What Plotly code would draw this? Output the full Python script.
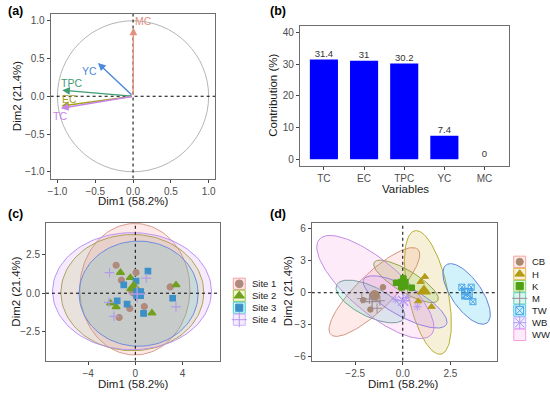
import numpy as np
import plotly.graph_objects as go

W, H = 550, 393
FONT = "Liberation Sans, Arial, Helvetica, sans-serif"

# ---------------- (a) variables correlation circle ----------------
var_names = ["MC", "EC", "TPC", "YC", "TC"]
var_dim1 = [0.005, -0.950, -0.937, -0.464, -0.956]
var_dim2 = [0.910, -0.130, 0.080, 0.440, -0.160]

# ---------------- (b) contributions ----------------
contrib_vars = ["TC", "EC", "TPC", "YC", "MC"]
contrib_vals = [31.4, 31.0, 30.2, 7.4, 0.0]
contrib_text = ["31.4", "31", "30.2", "7.4", "0"]

# ---------------- (c) individuals by site ----------------
site_names = ["Site 1", "Site 2", "Site 3", "Site 4"]
site1_x = [-1.63, 0.06, 2.95, 0.76, -1.37, -0.47, -1.18]
site1_y = [1.83, 1.35, 0.41, -0.87, -1.59, -1.00, 0.85]
site2_x = [-1.26, -0.42, 3.45, -2.10, -1.63, 1.41]
site2_y = [1.35, 1.02, 0.54, -0.65, -0.89, -1.30]
site3_x = [1.07, -0.98, 0.06, 3.17, -1.54, -0.70, 0.70]
site3_y = [1.45, 0.54, 0.80, -0.33, -0.50, -0.72, -1.32]
site4_x = [-2.19, 0.93, 3.45, -1.82, -2.24]
site4_y = [1.35, 0.98, -0.89, -1.52, -0.60]
site_mean_x = [-0.10, -0.13, 0.28, 0.15]
site_mean_y = [0.15, 0.37, -0.02, -0.05]
site_ell_cx = [-0.04, -0.25, 0.28, -0.28]
site_ell_cy = [0.26, 0.04, -0.03, 0.13]
site_ell_rx = [4.67, 6.06, 5.05, 6.74]
site_ell_ry = [4.30, 3.80, 3.44, 3.83]

# ---------------- (d) individuals by type ----------------
type_names = ["CB", "H", "K", "M", "TW", "WB", "WW"]
cb_x = [-1.04, -2.08, -1.70]
cb_y = [0.52, -0.69, -1.57]
h_x = [0.94, 1.16, 0.81, 1.51]
h_y = [1.03, 1.50, -0.79, -1.31]
k_x = [-0.35, 0.47, 0.03, -0.05]
k_y = [0.94, 0.47, 1.34, 0.50]
m_x = [-2.15, -1.35, -1.20, -1.75]
m_y = [-0.55, -1.45, -0.75, -0.60]
tw_x = [3.10, 3.59, 3.24, 3.38, 3.68]
tw_y = [0.52, 0.52, 0.15, -0.32, -0.84]
wb_x = [0.76, -0.40, 0.20]
wb_y = [-1.31, -0.63, -0.45]
ww_x = []
ww_y = []
type_mean_x = [-1.48, 1.11, 0.03, -1.61, 3.37, 0.02, None]
type_mean_y = [-0.25, 0.15, 0.80, -0.84, -0.09, -0.75, None]
type_ell_cx = [-1.49, 1.32, 0.17, -1.70, 3.35, 0.12, -1.44]
type_ell_cy = [0.07, 0.03, 1.06, -0.82, -0.11, -0.86, 0.54]
type_ell_ux = [2.29, 0.69, 1.67, 1.77, 1.07, 2.17, 2.95]
type_ell_uy = [3.98, -5.78, -1.78, -1.55, -2.72, -2.11, -4.45]
type_ell_vx = [0.65, -1.02, -0.29, -0.34, -0.64, -0.37, -0.87]
type_ell_vy = [-1.21, -0.39, -0.89, -1.27, -0.81, -1.24, -1.87]

# ---------------- styles ----------------
var_colors = ["#E2907F", "#A3A21C", "#3F9B72", "#4A89DC", "#C884E6"]
var_label_shift = {"MC": (10, 7), "EC": (8, 7), "TPC": (9, 7), "YC": (-8, -8), "TC": (-1, -8)}

site_pt_colors = ["#B08A7C", "#72A01E", "#3C90C8", "#B49BE8"]
site_fill = ["rgba(248,118,109,0.16)", "rgba(163,190,0,0.16)", "rgba(0,191,196,0.16)", "rgba(199,124,255,0.16)"]
site_line = ["#D79C8C", "#A9A93A", "#5C8ED6", "#B995EE"]
site_key_line = ["#F4A0A0", "#9BC43A", "#3FCFD3", "#D0B0FF"]
site_symbols = ["circle", "triangle-up", "square", "cross-thin-open"]
site_sizes = [6, 7, 5.5, 7]

type_pt_colors = ["#A8896F", "#B39B14", "#4FA012", "#9A8C94", "#4AA5E8", "#B59CF0", "#E58AD8"]
type_fill = ["rgba(248,118,109,0.15)", "rgba(196,154,0,0.15)", "rgba(83,180,0,0.15)",
             "rgba(0,192,148,0.15)", "rgba(0,182,235,0.18)", "rgba(165,138,255,0.15)",
             "rgba(251,97,215,0.13)"]
type_line = ["#D49582", "#B7AE2E", "#9AA04A", "#6AA597", "#6184D8", "#8C85DE", "#C48BE3"]
type_key_line = ["#F4A3A0", "#E6B84D", "#8FD46B", "#5FD6B8", "#55C8F0", "#C2B0FF", "#F89BE4"]
type_symbols = ["circle", "triangle-up", "square", "cross-thin-open", "square-x-open", "asterisk-open", None]
type_sizes = [5.5, 6.5, 5.5, 7, 6, 7, 0]

TICKFONT = dict(family=FONT, size=10, color="#4D4D4D")
TITLEFONT = dict(family=FONT, size=11.5, color="#1A1A1A")


def ellipse(cx, cy, ux, uy, vx, vy, n=120):
    t = np.linspace(0, 2 * np.pi, n)
    return cx + ux * np.cos(t) + vx * np.sin(t), cy + uy * np.cos(t) + vy * np.sin(t)


fig = go.Figure()


def dom_x(a, b):
    return [a / W, b / W]


def dom_y(top, bottom):
    return [1 - bottom / H, 1 - top / H]


axis_common = dict(showgrid=False, zeroline=False, showline=True, mirror=True,
                   linecolor="#6E6E6E", linewidth=1, ticks="outside", ticklen=3,
                   tickcolor="#444444", tickfont=TICKFONT)

rng_a = [-1.09, 1.09]
rng_c_x, rng_c_y = [-7.58, 7.16], [-4.42, 4.61]
rng_d_x, rng_d_y = [-4.78, 4.93], [-6.375, 6.56]

fig.update_layout(
    xaxis=dict(domain=dom_x(48, 214), range=rng_a, anchor="y",
               tickvals=[-1, -0.5, 0, 0.5, 1], tickformat=".1f", **axis_common),
    yaxis=dict(domain=dom_y(14, 179), range=rng_a, anchor="x",
               tickvals=[-1, -0.5, 0, 0.5, 1], tickformat=".1f", **axis_common),
    xaxis2=dict(domain=dom_x(299, 509.3), range=[-0.6, 4.6], anchor="y2", type="category",
                **axis_common),
    yaxis2=dict(domain=dom_y(26, 166), range=[-2, 42], anchor="x2",
                tickvals=[0, 10, 20, 30, 40], **axis_common),
    xaxis3=dict(domain=dom_x(43.3, 218.3), range=rng_c_x, anchor="y3",
                tickvals=[-4, 0, 4], **axis_common),
    yaxis3=dict(domain=dom_y(223.3, 361.7), range=rng_c_y, anchor="x3",
                tickvals=[-2.5, 0, 2.5], tickformat=".1f", **axis_common),
    xaxis4=dict(domain=dom_x(311, 497.3), range=rng_d_x, anchor="y4",
                tickvals=[-2.5, 0, 2.5], tickformat=".1f", **axis_common),
    yaxis4=dict(domain=dom_y(223.3, 361.7), range=rng_d_y, anchor="x4",
                tickvals=[-6, -3, 0, 3, 6], **axis_common),
    xaxis5=dict(domain=[0, 1], range=[0, W], anchor="y5", visible=False, fixedrange=True),
    yaxis5=dict(domain=[0, 1], range=[H, 0], anchor="x5", visible=False, fixedrange=True),
)


def dashed(xa, ya, xr, yr):
    fig.add_trace(go.Scatter(x=[xr[0], xr[1]], y=[0, 0], mode="lines", xaxis=xa, yaxis=ya,
                             line=dict(color="black", width=1, dash="3px,3px"),
                             hoverinfo="skip", showlegend=False))
    fig.add_trace(go.Scatter(x=[0, 0], y=[yr[0], yr[1]], mode="lines", xaxis=xa, yaxis=ya,
                             line=dict(color="black", width=1, dash="3px,3px"),
                             hoverinfo="skip", showlegend=False))


# ---------- (a) ----------
fig.add_shape(type="circle", xref="x", yref="y", x0=-1, y0=-1, x1=1, y1=1,
              line=dict(color="#B5B5B5", width=1), layer="below")
dashed("x", "y", rng_a, rng_a)
fig.add_trace(go.Scatter(x=var_dim1, y=var_dim2, mode="markers", marker=dict(size=1, opacity=0),
                         xaxis="x", yaxis="y", hoverinfo="skip", showlegend=False))
for name, d1, d2, col in zip(var_names, var_dim1, var_dim2, var_colors):
    fig.add_annotation(x=d1, y=d2, ax=0, ay=0, xref="x", yref="y", axref="x", ayref="y",
                       showarrow=True, arrowhead=2, arrowsize=1.1, arrowwidth=1.4,
                       arrowcolor=col, text="")
    sx, sy = var_label_shift[name]
    fig.add_annotation(x=d1, y=d2, xref="x", yref="y", text=name, showarrow=False,
                       font=dict(family=FONT, size=10.5, color=col), xshift=sx, yshift=sy)

# ---------- (b) ----------
fig.add_trace(go.Bar(x=contrib_vars, y=contrib_vals, marker=dict(color="#0000FF", line=dict(width=0)),
                     width=0.7, xaxis="x2", yaxis="y2", showlegend=False))
fig.add_trace(go.Scatter(x=contrib_vars, y=contrib_vals, text=contrib_text, mode="text",
                         textposition="top center", textfont=dict(family=FONT, size=9.5, color="#333333"),
                         xaxis="x2", yaxis="y2", showlegend=False, hoverinfo="skip"))

# ---------- (c) ----------
site_x = [site1_x, site2_x, site3_x, site4_x]
site_y = [site1_y, site2_y, site3_y, site4_y]
for i in range(4):
    ex, ey = ellipse(site_ell_cx[i], site_ell_cy[i], site_ell_rx[i], 0, 0, site_ell_ry[i])
    fig.add_trace(go.Scatter(x=ex, y=ey, mode="lines", fill="toself", fillcolor=site_fill[i],
                             line=dict(color=site_line[i], width=1), xaxis="x3", yaxis="y3",
                             hoverinfo="skip", showlegend=False))
dashed("x3", "y3", rng_c_x, rng_c_y)
for i in range(4):
    mk = dict(symbol=site_symbols[i], size=site_sizes[i], color=site_pt_colors[i],
              line=dict(width=1.2, color=site_pt_colors[i]))
    fig.add_trace(go.Scatter(x=site_x[i], y=site_y[i], mode="markers", marker=mk,
                             xaxis="x3", yaxis="y3", showlegend=False))
for i in range(4):
    mk = dict(symbol=site_symbols[i], size=site_sizes[i] * 1.7, color=site_pt_colors[i],
              line=dict(width=1.4, color=site_pt_colors[i]))
    fig.add_trace(go.Scatter(x=[site_mean_x[i]], y=[site_mean_y[i]], mode="markers", marker=mk,
                             xaxis="x3", yaxis="y3", showlegend=False))

# ---------- (d) ----------
type_x = [cb_x, h_x, k_x, m_x, tw_x, wb_x, ww_x]
type_y = [cb_y, h_y, k_y, m_y, tw_y, wb_y, ww_y]
for i in range(7):
    ex, ey = ellipse(type_ell_cx[i], type_ell_cy[i], type_ell_ux[i], type_ell_uy[i],
                     type_ell_vx[i], type_ell_vy[i])
    fig.add_trace(go.Scatter(x=ex, y=ey, mode="lines", fill="toself", fillcolor=type_fill[i],
                             line=dict(color=type_line[i], width=1), xaxis="x4", yaxis="y4",
                             hoverinfo="skip", showlegend=False))
dashed("x4", "y4", rng_d_x, rng_d_y)
for i in range(7):
    if type_symbols[i] is None:
        continue
    mk = dict(symbol=type_symbols[i], size=type_sizes[i], color=type_pt_colors[i],
              line=dict(width=1, color=type_pt_colors[i]))
    fig.add_trace(go.Scatter(x=type_x[i], y=type_y[i], mode="markers", marker=mk,
                             xaxis="x4", yaxis="y4", showlegend=False))
    mk2 = dict(symbol=type_symbols[i], size=type_sizes[i] * 1.7, color=type_pt_colors[i],
               line=dict(width=1.3, color=type_pt_colors[i]))
    fig.add_trace(go.Scatter(x=[type_mean_x[i]], y=[type_mean_y[i]], mode="markers", marker=mk2,
                             xaxis="x4", yaxis="y4", showlegend=False))


# ---------- legends (drawn on a pixel overlay axis) ----------
def draw_key_legend(names, fills, key_lines, symbols, colors, sizes, x0, y_first, step, box_w, label_x):
    for i, name in enumerate(names):
        yc = y_first + i * step
        fig.add_shape(type="rect", xref="x5", yref="y5", x0=x0, x1=x0 + box_w,
                      y0=yc - step / 2 + 0.4, y1=yc + step / 2 - 0.4,
                      fillcolor=fills[i], line=dict(color=key_lines[i], width=1), layer="below")
        if symbols[i] is not None:
            sz = sizes[i] * (1.55 if "cross" in symbols[i] or "asterisk" in symbols[i] else 1.3)
            fig.add_trace(go.Scatter(x=[x0 + box_w / 2], y=[yc], mode="markers",
                                     marker=dict(symbol=symbols[i], size=sz, color=colors[i],
                                                 line=dict(width=1, color=colors[i])),
                                     xaxis="x5", yaxis="y5", hoverinfo="skip", showlegend=False))
        fig.add_annotation(x=label_x, y=yc, xref="x5", yref="y5", text=name, showarrow=False,
                           xanchor="left", font=dict(family=FONT, size=9.5, color="#1A1A1A"))


draw_key_legend(site_names, site_fill, site_key_line, site_symbols, site_pt_colors, site_sizes,
                232, 284.5, 12, 12, 249)
draw_key_legend(type_names, type_fill, type_key_line, type_symbols, type_pt_colors, type_sizes,
                514.5, 262.5, 12.2, 12, 530.5)


# ---------- titles & panel labels ----------
def txt(x, y, s, angle=0, font=TITLEFONT, anchor="center"):
    fig.add_annotation(x=x / W, y=1 - y / H, xref="paper", yref="paper", text=s, showarrow=False,
                       textangle=angle, font=font, xanchor=anchor, yanchor="middle")


txt(131, 202, "Dim1 (58.2%)")
txt(13.5, 96, "Dim2 (21.4%)", angle=-90)
txt(405, 189.5, "Variables", font=dict(family=FONT, size=11.5, color="#1A1A1A"))
txt(272, 96, "Contribution (%)", angle=-90)
txt(131, 384.5, "Dim1 (58.2%)")
txt(13.5, 292, "Dim2 (21.4%)", angle=-90)
txt(403, 384.5, "Dim1 (58.2%)")
txt(287, 292, "Dim2 (21.4%)", angle=-90)

LABFONT = dict(family=FONT, size=12.5, color="black")
txt(3, 11, "<b>(a)</b>", font=LABFONT, anchor="left")
txt(267, 11, "<b>(b)</b>", font=LABFONT, anchor="left")
txt(3, 215, "<b>(c)</b>", font=LABFONT, anchor="left")
txt(267, 215, "<b>(d)</b>", font=LABFONT, anchor="left")

fig.update_layout(width=W, height=H, margin=dict(l=0, r=0, t=0, b=0),
                  paper_bgcolor="white", plot_bgcolor="rgba(0,0,0,0)",
                  showlegend=False, font=dict(family=FONT))

fig.write_html("out.html", config={"displayModeBar": False},
               post_script="document.body.style.margin='0';document.body.style.padding='0';"
                           "document.body.style.overflow='hidden';")
